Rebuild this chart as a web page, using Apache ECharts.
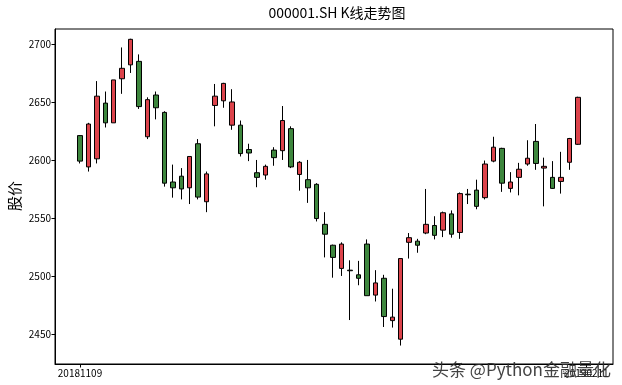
<!DOCTYPE html>
<html>
<head>
<meta charset="utf-8">
<script src="https://cdn.jsdelivr.net/npm/echarts@6/dist/echarts.min.js"></script>
<style>html,body{margin:0;padding:0;background:#fff}#c{width:622px;height:385px}</style>
</head>
<body>
<div id="c"></div>
<script>
const dates = ['20181109','20181112','20181113','20181114','20181115','20181116','20181119','20181120','20181121','20181122','20181123','20181126','20181127','20181128','20181129','20181130','20181203','20181204','20181205','20181206','20181207','20181210','20181211','20181212','20181213','20181214','20181217','20181218','20181219','20181220','20181221','20181224','20181225','20181226','20181227','20181228','20190102','20190103','20190104','20190107','20190108','20190109','20190110','20190111','20190114','20190115','20190116','20190117','20190118','20190121','20190122','20190123','20190124','20190125','20190128','20190129','20190130','20190131','20190201','20190211'];
const openP  = [2621,2594,2601,2649,2632,2670,2682,2685,2620,2656,2641,2581,2586,2576,2614,2564,2647,2651,2630,2630,2609,2589,2587,2608.5,2608,2627,2587.5,2583,2579,2544.5,2526.5,2506.5,2505,2501,2527.5,2483.5,2498,2461.5,2445.5,2529,2530,2537,2543.5,2539.5,2553.5,2537.5,2570.5,2574,2567.5,2599,2610,2575.5,2585,2596.5,2616,2593,2585,2581.5,2598,2613.5];
const closeP = [2599,2631,2655,2632,2669,2679,2704,2646,2652,2645,2580,2576,2575,2603,2568,2588,2655,2666,2650,2605.5,2606,2585,2594.5,2602,2634,2594,2598,2576,2549.5,2536,2516,2527.5,2504.5,2498,2483,2494,2465,2464.5,2515,2533,2526.5,2544.5,2535,2554.5,2536,2571,2570,2560,2596.5,2611,2580,2581,2592,2601.5,2597,2594.5,2575.5,2585,2618.5,2654];
const lowP   = [2597,2590,2597,2628,2632,2657,2675,2644,2618,2635,2577,2567.5,2566,2562,2566,2555,2629,2645,2626,2603,2599,2576.5,2583,2595,2600,2593,2573.5,2563,2547,2516,2498.5,2500,2462,2492,2483,2478,2456,2455.5,2440,2515,2520,2536,2531.5,2533.5,2533,2532,2562,2557.5,2566,2598,2572.5,2572,2569.5,2595,2591.5,2560,2575,2571,2591.5,2613];
const highP  = [2621.5,2632,2668,2659,2669,2697,2704.5,2691,2654,2659,2642,2596,2593,2603,2618,2590,2665.5,2666.5,2661,2634,2614,2600,2596,2611,2646.5,2629,2599,2600,2580,2555,2527,2529,2513.5,2513,2531.5,2505,2501,2489,2515,2537,2532,2575,2551.5,2555.5,2556.5,2572,2575,2583,2599.5,2620,2610.5,2589.5,2597.5,2617,2631,2602,2599,2607,2619,2654.5];
const yTicks = [2450,2500,2550,2600,2650,2700];
const xTickPos = [0,60];
const xTickLabels = ['20181109','20190211'];

const data = dates.map((d,i)=>[i, openP[i], closeP[i], lowP[i], highP[i]]);
const FONT = '"Noto Sans CJK SC","Noto Sans",sans-serif';
const chart = echarts.init(document.getElementById('c'), null, {renderer:'canvas'});
chart.setOption({
  animation:false,
  backgroundColor:'#fff',
  title:[{text:'头条 @Python金融量化',left:432,top:361,padding:0,z:100,
    textStyle:{fontSize:17,fontWeight:'normal',fontFamily:FONT,color:'rgba(45,45,45,0.9)'}}],
  grid:{left:55,right:9,top:29,bottom:21,show:true,borderColor:'#000',borderWidth:1,backgroundColor:'transparent'},
  xAxis:{
    type:'value', min:-2.96, max:63.15,
    axisLine:{show:true,onZero:false,lineStyle:{color:'#000',width:1}},
    splitLine:{show:false},
    axisTick:{show:true,length:3.5,lineStyle:{color:'#000'},customValues:xTickPos},
    axisLabel:{color:'#000',fontSize:10,fontFamily:FONT,margin:4,showMaxLabel:true,hideOverlap:false,customValues:xTickPos,
      formatter:(v)=>{const k=xTickPos.indexOf(Math.round(Number(v)));return k>=0?xTickLabels[k]:String(v);}}
  },
  yAxis:{
    type:'value', min:2424.1, max:2712.9, scale:true,
    axisLine:{show:true,onZero:false,lineStyle:{color:'#000',width:1}},
    splitLine:{show:false},
    axisTick:{show:true,length:3.5,lineStyle:{color:'#000'},customValues:yTicks},
    axisLabel:{color:'#000',fontSize:10,fontFamily:FONT,margin:4,customValues:yTicks,formatter:v=>String(v)}
  },
  series:[{
    type:'candlestick',
    data:data,
    encode:{x:0,y:[1,2,3,4]},
    barWidth:5,
    itemStyle:{color:'#dc434b',color0:'#3d863d',borderColor:'#000',borderColor0:'#000',borderColorDoji:'#000',borderWidth:1}
  }],
  graphic:[
    {type:'text',x:337,y:13,style:{text:'000001.SH K线走势图',align:'center',verticalAlign:'middle',font:'14px '+FONT,fill:'#000'}},
    {type:'text',rotation:Math.PI/2,x:14,y:196,style:{text:'股价',align:'center',verticalAlign:'middle',font:'15px '+FONT,fill:'#000'}}
  ]
});
</script>
</body>
</html>
